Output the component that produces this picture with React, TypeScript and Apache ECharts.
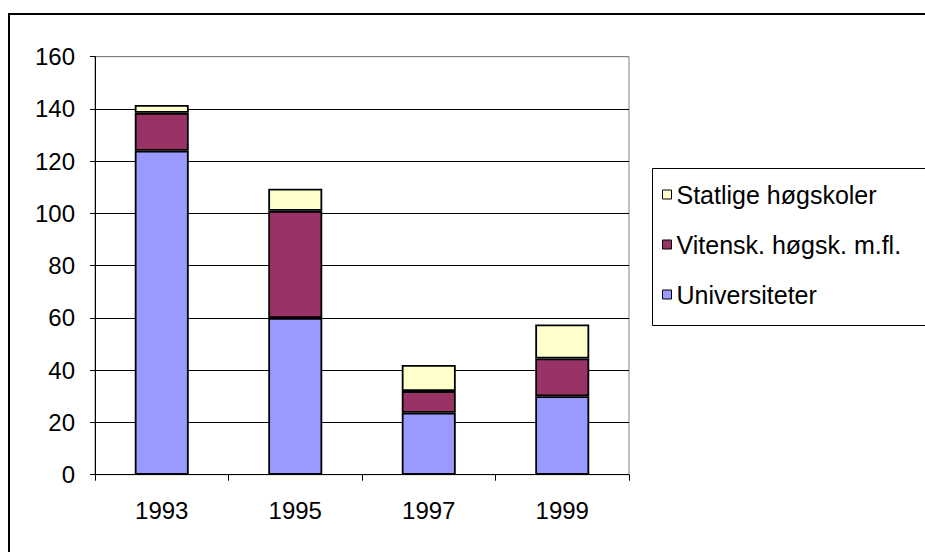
import React, { useEffect, useRef } from "react";
import * as echarts from "echarts";

const categories = ["1993", "1995", "1997", "1999"];
const universiteter = [124, 60, 23.7, 30];
const vitensk = [14.5, 41, 8.3, 14.5];
const statlige = [3, 8.5, 10, 13];
const yTicks = { min: 0, max: 160, interval: 20 };

const FONT = "'Liberation Sans', Arial, sans-serif";

export default function App() {
  const ref = useRef<HTMLDivElement>(null);
  useEffect(() => {
    if (!ref.current) return;
    const chart = echarts.init(ref.current, null, { renderer: "svg" });
    const barStyle = (color: string) => ({
      color,
      borderColor: "#000",
      borderWidth: 1.8,
    });
    chart.setOption({
      animation: false,
      backgroundColor: "#fff",
      textStyle: { fontFamily: FONT },
      grid: {
        left: 95,
        top: 56.7,
        right: 296,
        bottom: 77.3,
        show: true,
        borderColor: "#808080",
        borderWidth: 1,
        backgroundColor: "transparent",
      },
      legend: {
        orient: "vertical",
        left: 662,
        top: 182,
        padding: 0,
        itemGap: 25,
        itemWidth: 9,
        itemHeight: 9,
        icon: "rect",
        textStyle: { fontFamily: FONT, fontSize: 25, lineHeight: 25, color: "#000" },
        data: ["Statlige høgskoler", "Vitensk. høgsk. m.fl.", "Universiteter"],
        itemStyle: { borderColor: "#000", borderWidth: 1 },
      },
      xAxis: {
        type: "category",
        data: categories,
        axisLine: { show: true, lineStyle: { color: "#000", width: 1 } },
        axisTick: { show: true, alignWithLabel: false, length: 6, lineStyle: { color: "#000" } },
        axisLabel: { color: "#000", fontSize: 24, fontFamily: FONT, margin: 24 },
        splitLine: { show: false },
      },
      yAxis: {
        type: "value",
        min: yTicks.min,
        max: yTicks.max,
        interval: yTicks.interval,
        axisLine: { show: true, lineStyle: { color: "#000", width: 1 } },
        axisTick: { show: true, length: 5, lineStyle: { color: "#000" } },
        axisLabel: { color: "#000", fontSize: 24, fontFamily: FONT, margin: 20 },
        splitLine: {
          show: true,
          lineStyle: {
            color: ["#000", "#000", "#000", "#000", "#000", "#000", "#000", "#000", "#808080"],
            width: 1,
          },
        },
      },
      series: [
        {
          name: "Universiteter",
          type: "bar",
          stack: "total",
          barWidth: 54,
          data: universiteter,
          itemStyle: barStyle("#9999FF"),
        },
        {
          name: "Vitensk. høgsk. m.fl.",
          type: "bar",
          stack: "total",
          barWidth: 54,
          data: vitensk,
          itemStyle: barStyle("#993366"),
        },
        {
          name: "Statlige høgskoler",
          type: "bar",
          stack: "total",
          barWidth: 54,
          data: statlige,
          itemStyle: barStyle("#FFFFCC"),
        },
      ],
      graphic: [
        {
          type: "rect",
          shape: { x: 9, y: 14, width: 1000, height: 1000 },
          style: { fill: "none", stroke: "#000", lineWidth: 2 },
          silent: true,
        },
        {
          type: "rect",
          shape: { x: 652.5, y: 168.5, width: 400, height: 157 },
          style: { fill: "none", stroke: "#000", lineWidth: 1 },
          silent: true,
        },
      ],
    });
    return () => chart.dispose();
  }, []);
  return (
    <div
      ref={ref}
      style={{ position: "fixed", left: 0, top: 0, width: 925, height: 552 }}
    />
  );
}
